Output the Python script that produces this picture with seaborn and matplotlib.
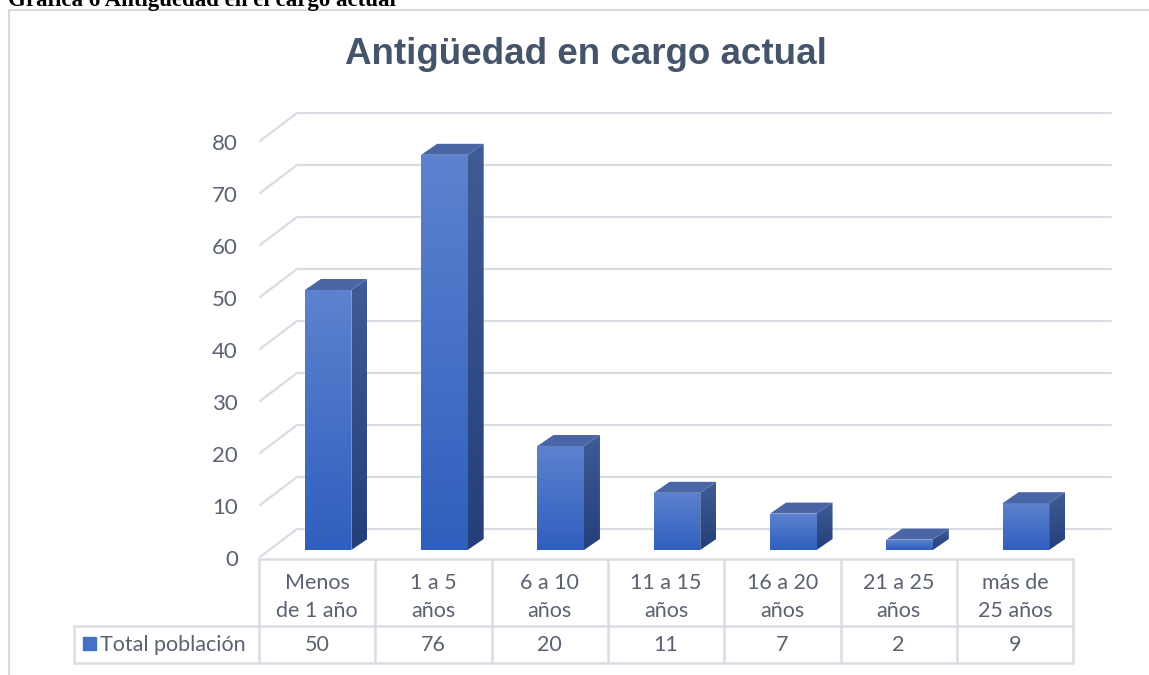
#!/usr/bin/env python3

import numpy as np
import matplotlib
matplotlib.use("Agg")
import matplotlib.pyplot as plt
import matplotlib.colors as mcolors
from matplotlib.patches import Polygon, Rectangle
import seaborn as sns

# data
caption = "Gráfica 6 Antigüedad en el cargo actual"
title = "Antigüedad en cargo actual"
categories = ["Menos\nde 1 año", "1 a 5\naños", "6 a 10\naños", "11 a 15\naños",
              "16 a 20\naños", "21 a 25\naños", "más de\n25 años"]
values = [50, 76, 20, 11, 7, 2, 9]
series_name = "Total población"
yticks = [0, 10, 20, 30, 40, 50, 60, 70, 80]

W, H = 1149, 675
TXT = "#5A6270"
GRID = "#D9DDE3"

sns.set_style("white")
plt.rcParams['font.family'] = ['Lato', 'DejaVu Sans']

fig = plt.figure(figsize=(W / 100, H / 100), dpi=100)

# overlay axes in pixel coords for frame, title and data table
deco = fig.add_axes([0, 0, 1, 1])
deco.set_xlim(0, W)
deco.set_ylim(H, 0)
deco.axis('off')

# plot axes: front face of bars (pixel 259..1073 wide, 557..105 tall)
ax = fig.add_axes([259 / W, (H - 557) / H, (1073 - 259) / W, (557 - 105) / H])
ax.patch.set_alpha(0)

sns.barplot(x=categories, y=values, ax=ax, width=0.4, color="#4472C4",
            order=categories, zorder=3)

px_x = 116.3   # pixels per category
px_y = 5.2     # pixels per unit
x_shift = 11 / px_x
ax.set_xlim(-0.5 - x_shift, 6.5 - x_shift)
ax.set_ylim(-7 / px_y, 445 / px_y)
ax.axis('off')

# back wall gridlines + left diagonals
back_dy = 21 / px_y
x_front = ax.get_xlim()[0] + 1 / px_x
x_back = ax.get_xlim()[0] + 38 / px_x
x_end = ax.get_xlim()[0] + (1111 - 259) / px_x
for v in yticks:
    ax.plot([x_front, x_back], [v - 7 / px_y, v + back_dy], color=GRID, lw=1.6,
            zorder=0, clip_on=False)
    ax.plot([x_back, x_end], [v + back_dy, v + back_dy], color=GRID, lw=1.6,
            zorder=0, clip_on=False)
    ax.text(ax.get_xlim()[0] - 21 / px_x, v - 10 / px_y, str(v), ha='right',
            va='center', fontsize=16, color=TXT)


def grad_fill(poly, top, bot, z):
    ext = poly.get_path().get_extents()
    cmap = mcolors.LinearSegmentedColormap.from_list('g', [bot, top])
    im = ax.imshow(np.linspace(0, 1, 128)[:, None], cmap=cmap, origin='lower',
                   extent=(ext.x0, ext.x1, ext.y0, ext.y1), aspect='auto',
                   zorder=z, interpolation='bilinear')
    im.set_clip_path(poly)


# 3D look: front gradient, side and top faces
dx = 16 / px_x
dy = 11 / px_y
for bar in list(ax.patches):
    x0 = bar.get_x()
    x1 = x0 + bar.get_width()
    h = bar.get_height()
    front = Polygon([(x0, 0), (x1, 0), (x1, h), (x0, h)], closed=True,
                    facecolor='none', edgecolor='none', zorder=3)
    ax.add_patch(front)
    grad_fill(front, "#5D82CF", "#2F5FBE", 3.1)
    side = Polygon([(x1, 0), (x1 + dx, dy), (x1 + dx, h + dy), (x1, h)],
                   closed=True, facecolor='none', edgecolor='none', zorder=3)
    ax.add_patch(side)
    grad_fill(side, "#3F5C96", "#243F7A", 3.1)
    top = Polygon([(x0, h), (x0 + dx, h + dy), (x1 + dx, h + dy), (x1, h)],
                  closed=True, facecolor="#4A66A6", edgecolor='none', zorder=3.2)
    ax.add_patch(top)
ax.set_xlim(-0.5 - x_shift, 6.5 - x_shift)
ax.set_ylim(-7 / px_y, 445 / px_y)

# frame and caption (cut at the top edge, as in the source page)
deco.plot([9, 9], [10, H], color="#D9D9D9", lw=1.5)
deco.plot([9, W], [10, 10], color="#D9D9D9", lw=1.5)
deco.text(8, 6, caption, fontsize=16.5, fontweight='bold', color='black',
          family=['Liberation Serif', 'DejaVu Serif'], va='baseline', ha='left')
deco.text(586, 54, title, fontsize=26.5, fontweight='bold', color="#44546A",
          family=['Liberation Sans', 'DejaVu Sans'], ha='center', va='center')

# data table
cols = [259 + px_x * i for i in range(len(categories) + 1)]
tl = dict(color=GRID, lw=1.8)
deco.plot([cols[0], cols[-1]], [559, 559], **tl)
deco.plot([74, cols[-1]], [626, 626], **tl)
deco.plot([74, cols[-1]], [663, 663], **tl)
deco.plot([74, 74], [626, 663], **tl)
for c in cols:
    deco.plot([c, c], [559, 663], **tl)
for i, (cat, val) in enumerate(zip(categories, values)):
    cx = (cols[i] + cols[i + 1]) / 2
    deco.text(cx, 597, cat, ha='center', va='center', fontsize=15.5, color=TXT,
              linespacing=1.55)
    deco.text(cx, 645, str(val), ha='center', va='center', fontsize=15.5,
              color=TXT)
deco.add_patch(Rectangle((83, 637), 13, 13, color="#4472C4"))
deco.text(100, 645, series_name, ha='left', va='center', fontsize=15.5,
          color=TXT)

plt.savefig("out.png", dpi=100)
plt.close()
